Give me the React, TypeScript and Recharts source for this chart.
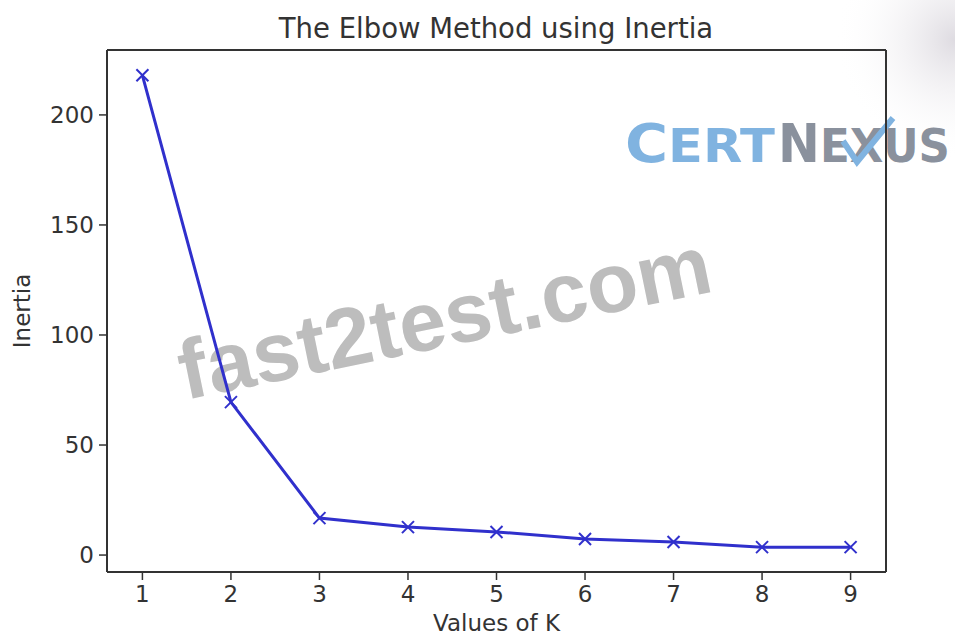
import { LineChart, Line, XAxis, YAxis, ReferenceLine } from "recharts";

const kValues = [1, 2, 3, 4, 5, 6, 7, 8, 9];
const inertia = [218, 69.5, 16.8, 12.7, 10.5, 7.3, 5.9, 3.6, 3.6];
const xTicks = [1, 2, 3, 4, 5, 6, 7, 8, 9];
const yTicks = [0, 50, 100, 150, 200];
const xDomain = [0.6, 9.4];
const yDomain = [-7.7, 229.5];

const data = kValues.map((k, i) => ({ k, inertia: inertia[i] }));

const INK = "#333";
const BLUE = "#3030cc";
const font = "DejaVu Sans, sans-serif";

function XMarker(props: { cx?: number; cy?: number; index?: number }) {
  const { cx, cy } = props;
  if (cx == null || cy == null) return null;
  const s = 6;
  return (
    <g key={props.index} stroke={BLUE} strokeWidth={2}>
      <line x1={cx - s} y1={cy - s} x2={cx + s} y2={cy + s} />
      <line x1={cx - s} y1={cy + s} x2={cx + s} y2={cy - s} />
    </g>
  );
}

// watermarks sit behind the chart so the line draws over them
function Watermarks() {
  return (
    <svg
      width={955}
      height={637}
      style={{ position: "absolute", left: 0, top: 0 }}
    >
      <defs>
        <radialGradient id="corner" cx="955" cy="40" r="120" gradientUnits="userSpaceOnUse">
          <stop offset="0" stopColor="#dedbe1" stopOpacity={1} />
          <stop offset="1" stopColor="#ffffff" stopOpacity={0} />
        </radialGradient>
      </defs>
      <rect x={820} y={0} width={135} height={170} fill="url(#corner)" />
      <text
        x={185}
        y={400}
        transform="rotate(-11.6 185 400)"
        fontFamily="Liberation Sans, Arial, sans-serif"
        fontWeight="bold"
        fontSize={84}
        fill="#bdbdbd"
      >
        fast2test.com
      </text>
      <text
        x={625}
        y={162}
        fontFamily="DejaVu Sans, sans-serif"
        fontWeight="bold"
        fill="#80b3e0"
        textLength={150}
        lengthAdjust="spacingAndGlyphs"
      >
        <tspan fontSize={54}>C</tspan>
        <tspan fontSize={47}>ERT</tspan>
      </text>
      <text
        x={778}
        y={162}
        fontFamily="DejaVu Sans, sans-serif"
        fontWeight="bold"
        fill="#8a919d"
        textLength={172}
        lengthAdjust="spacingAndGlyphs"
      >
        <tspan fontSize={54}>N</tspan>
        <tspan fontSize={47}>EXUS</tspan>
      </text>
      <polyline
        points="843,141 857,162 893,118"
        fill="none"
        stroke="#80b3e0"
        strokeWidth={6}
      />
    </svg>
  );
}

export default function App() {
  return (
    <div
      style={{
        position: "absolute",
        left: 0,
        top: 0,
        width: 955,
        height: 637,
        background: "#fff",
        overflow: "hidden",
      }}
    >
      <Watermarks />
      <div style={{ position: "absolute", left: 0, top: 0 }}>
        <LineChart
          width={955}
          height={637}
          data={data}
          margin={{ top: 50, right: 69, left: 0, bottom: 0 }}
        >
          <text
            x={496}
            y={38}
            textAnchor="middle"
            fontFamily={font}
            fontSize={27.5}
            fill={INK}
          >
            The Elbow Method using Inertia
          </text>
          <XAxis
            dataKey="k"
            type="number"
            domain={xDomain}
            ticks={xTicks}
            allowDataOverflow
            height={65}
            tickSize={8}
            tickMargin={6}
            axisLine={{ stroke: INK, strokeWidth: 2 }}
            tickLine={{ stroke: INK, strokeWidth: 1.5 }}
            tick={{ fill: INK, fontSize: 23, fontFamily: font }}
            label={{
              value: "Values of K",
              position: "insideBottom",
              offset: 6,
              fill: INK,
              fontSize: 23,
              fontFamily: font,
            }}
          />
          <YAxis
            type="number"
            domain={yDomain}
            ticks={yTicks}
            allowDataOverflow
            width={107}
            tickSize={8}
            tickMargin={5}
            axisLine={{ stroke: INK, strokeWidth: 2 }}
            tickLine={{ stroke: INK, strokeWidth: 1.5 }}
            tick={{ fill: INK, fontSize: 23, fontFamily: font }}
            label={{
              value: "Inertia",
              angle: -90,
              position: "insideLeft",
              offset: 22,
              fill: INK,
              fontSize: 23,
              fontFamily: font,
              style: { textAnchor: "middle" },
            }}
          />
          {/* top and right spines */}
          <ReferenceLine y={yDomain[1]} stroke={INK} strokeWidth={2} />
          <ReferenceLine x={xDomain[1]} stroke={INK} strokeWidth={2} />
          <Line
            dataKey="inertia"
            stroke={BLUE}
            strokeWidth={3}
            dot={XMarker}
            activeDot={false}
            isAnimationActive={false}
          />
        </LineChart>
      </div>
    </div>
  );
}
